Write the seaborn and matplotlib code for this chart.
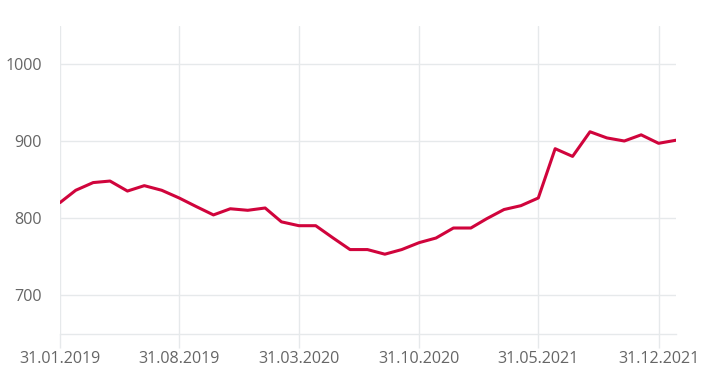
import matplotlib
matplotlib.use("Agg")
import matplotlib.pyplot as plt
import matplotlib.dates as mdates
import seaborn as sns
import pandas as pd

dates = pd.date_range("2019-01-31", "2022-01-31", freq="ME")
values = [820, 836, 846, 848, 835, 842, 836, 826, 815, 804, 812, 810, 813,
          795, 790, 790, 774, 759, 759, 753, 759, 768, 774, 787, 787, 799,
          811, 816, 826, 890, 880, 912, 904, 900, 908, 897, 901]
tick_dates = pd.to_datetime(["2019-01-31", "2019-08-31", "2020-03-31",
                             "2020-10-31", "2021-05-31", "2021-12-31"])
y_ticks = [700, 800, 900, 1000]

df = pd.DataFrame({"date": dates, "value": values})

sns.set_theme(style="white")
plt.rcParams["font.family"] = ["Open Sans", "DejaVu Sans"]

grid_c = "#e6e9eb"
text_c = "#666666"

fig = plt.figure(figsize=(7.1, 3.74), dpi=100)
ax = fig.add_axes([60 / 710, (374 - 333.5) / 374, 616 / 710, 308 / 374])

sns.lineplot(data=df, x="date", y="value", ax=ax, color="#d0043c",
             linewidth=2.2, zorder=3)

ax.set_xlim(pd.Timestamp("2019-01-31"), pd.Timestamp("2022-01-31"))
ax.set_ylim(650, 1050)
ax.set_xticks(tick_dates)
ax.xaxis.set_major_formatter(mdates.DateFormatter("%d.%m.%Y"))
ax.set_yticks(y_ticks)
ax.set_xlabel("")
ax.set_ylabel("")

ax.grid(True, color=grid_c, linewidth=1)
for s in ["top", "right", "left"]:
    ax.spines[s].set_visible(False)
ax.spines["bottom"].set_color(grid_c)
ax.spines["bottom"].set_linewidth(1)

ax.tick_params(axis="x", length=10, color=grid_c, width=1, labelsize=11.6,
               labelcolor=text_c, pad=2.5, bottom=True)
ax.tick_params(axis="y", length=0, labelsize=11.6, labelcolor=text_c, pad=13)

fig.savefig("out.png", dpi=100)
